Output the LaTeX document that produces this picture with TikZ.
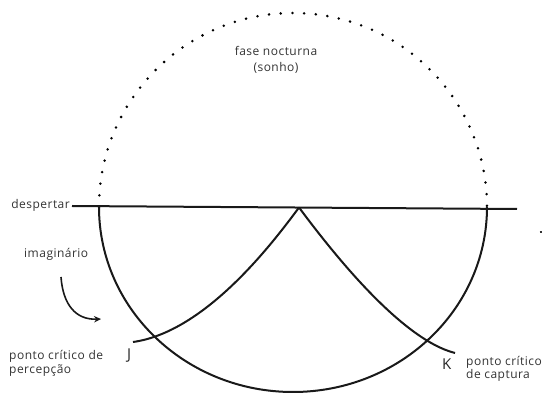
\documentclass[tikz,border=0pt]{standalone}
\usepackage{fontspec}
\setmainfont{Open Sans}[LetterSpace=4]
\usetikzlibrary{arrows.meta}
\begin{document}
\begin{tikzpicture}[x=1pt,y=1pt,
  thick line/.style={line width=2pt, black!90},
  dotline/.style={line width=2.8pt, line cap=round, dash pattern=on 0pt off 11.7pt, black},
  lbl/.style={inner sep=0pt, text=black!80, font=\fontsize{12}{14}\selectfont},
  bigl/.style={inner sep=0pt, text=black!85, font=\fontsize{15}{17}\selectfont}]
\useasboundingbox (0,0) rectangle (542,394);
% key points
\coordinate (C) at (293,187);
\coordinate (L) at (99,187);
\coordinate (hl) at (72,188);
\coordinate (hr) at (517,185);
\coordinate (apex) at (299,186.5);
\coordinate (J) at (133,52);
\coordinate (K) at (455,41);
% dotted upper arc
\draw[dotline] (L) arc[start angle=180, end angle=0, radius=194];
% solid lower arc
\draw[thick line] (L) arc[start angle=180, end angle=360, x radius=194, y radius=185];
% horizontal line
\draw[thick line] (hl) -- (hr);
% small mark
\coordinate (m1) at (539.5,162);
\coordinate (m2) at (542,162);
\draw[line width=1.2pt, black!80] (m1) -- (m2);
% curves from apex
\draw[thick line] (apex) .. controls (272,150) and (205,62) .. (J);
\draw[thick line] (apex) .. controls (330,145) and (400,55) .. (K);
% curved arrow
\coordinate (s) at (61,117);
\coordinate (e) at (101,75);
\draw[line width=1.6pt, black!90, -{Stealth[length=7pt,width=6.5pt]}] (s) .. controls (63,89) and (76,74) .. (e);
% labels
\node[lbl, anchor=base] (fase) at (276,338) {fase nocturna};
\node[lbl, anchor=base] (sonho) at (276,322) {(sonho)};
\node[lbl, anchor=base east] (desp) at (70,185) {despertar};
\node[lbl, anchor=base west] (imag) at (24,136) {imaginário};
\node[lbl, anchor=base west] (pc1) at (9,34) {ponto crítico de};
\node[lbl, anchor=base west] (pc2) at (9,20) {percepção};
\node[bigl, anchor=base west] (Jl) at (127,34) {J};
\node[bigl, anchor=base west] (Kl) at (442,24) {K};
\node[lbl, anchor=base west] (pk1) at (466,28) {ponto crítico};
\node[lbl, anchor=base west] (pk2) at (466,15) {de captura};
\end{tikzpicture}
\end{document}
